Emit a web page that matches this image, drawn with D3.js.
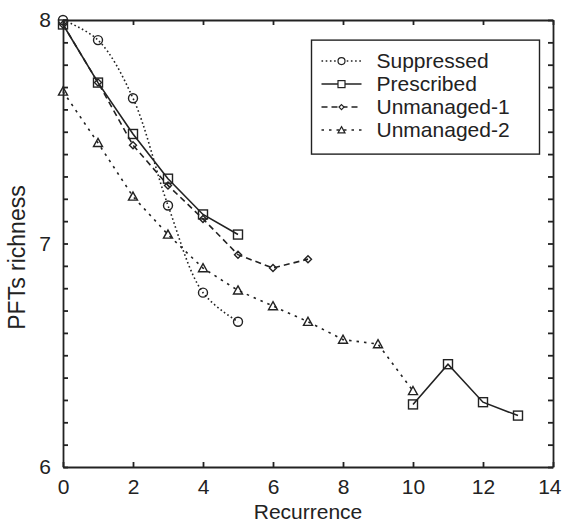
<!DOCTYPE html>
<html>
<head>
<meta charset="utf-8">
<script src="https://cdn.jsdelivr.net/npm/d3@7"></script>
<style>
  body { margin: 0; background: #fff; }
  text { font-family: "Liberation Sans", Arial, sans-serif; fill: #222; }
</style>
</head>
<body>
<svg id="chart" width="562" height="524"></svg>
<script>
// data
const recurrence = [0, 1, 2, 3, 4, 5, 6, 7, 8, 9, 10, 11, 12, 13];
const suppressed = [8.0, 7.91, 7.65, 7.17, 6.78, 6.65];
const prescribed = [7.98, 7.72, 7.49, 7.29, 7.13, 7.04, null, null, null, null, 6.28, 6.46, 6.29, 6.23];
const unmanaged1 = [7.98, 7.72, 7.44, 7.26, 7.11, 6.95, 6.89, 6.93];
const unmanaged2 = [7.68, 7.45, 7.21, 7.04, 6.89, 6.79, 6.72, 6.65, 6.57, 6.55, 6.34];

const seriesNames = ["Suppressed", "Prescribed", "Unmanaged-1", "Unmanaged-2"];
const xTicks = [0, 2, 4, 6, 8, 10, 12, 14];
const yLabels = [6, 7, 8];

const ink = "#222";
const margin = { top: 20, right: 9, bottom: 57, left: 63 };
const width = 562 - margin.left - margin.right;
const height = 524 - margin.top - margin.bottom;

const svg = d3.select("#chart");
const g = svg.append("g").attr("transform", `translate(${margin.left},${margin.top})`);

const x = d3.scaleLinear().domain([0, 14]).range([0, width]);
const y = d3.scaleLinear().domain([6, 8]).range([height, 0]);

const series = [
  { name: seriesNames[0], values: suppressed, dash: "1.6,2.6", marker: "circle", curve: d3.curveCatmullRom.alpha(0.5) },
  { name: seriesNames[1], values: prescribed, dash: null, marker: "square", curve: d3.curveLinear },
  { name: seriesNames[2], values: unmanaged1, dash: "6,4", marker: "diamond", curve: d3.curveLinear },
  { name: seriesNames[3], values: unmanaged2, dash: "2.5,5", marker: "triangle", curve: d3.curveLinear },
];

// axes, ticks pointing inward on all four sides
const yTickVals = d3.range(60, 81).map((d) => d / 10);
const fmtY = (d) => (yLabels.includes(d) ? d3.format("d")(d) : "");

function styleAxis(sel) {
  sel.selectAll("path, line").attr("stroke", ink).attr("stroke-width", 1.8);
  sel.selectAll("text").attr("font-size", 21).attr("fill", ink);
}

const xAxis = g.append("g")
  .attr("transform", `translate(0,${height})`)
  .call(d3.axisBottom(x).tickValues(xTicks).tickSizeInner(-5).tickSizeOuter(0).tickPadding(12))
  .call(styleAxis);
// last label sits right at the window edge, keep it inside
xAxis.selectAll(".tick text")
  .filter((d) => d === 14)
  .attr("text-anchor", "end")
  .attr("x", 8);

g.append("g")
  .call(d3.axisTop(x).tickValues(xTicks).tickSizeInner(-5).tickSizeOuter(0).tickFormat(""))
  .call(styleAxis);
g.append("g")
  .call(d3.axisLeft(y).tickValues(yTickVals).tickSizeInner(-5).tickSizeOuter(0).tickPadding(12).tickFormat(fmtY))
  .call(styleAxis);
g.append("g")
  .attr("transform", `translate(${width},0)`)
  .call(d3.axisRight(y).tickValues(yTickVals).tickSizeInner(-5).tickSizeOuter(0).tickFormat(""))
  .call(styleAxis);

// markers
function drawMarker(sel, type, s) {
  if (type === "circle") {
    sel.append("circle").attr("r", s / 2);
  } else if (type === "square") {
    sel.append("rect").attr("x", -s / 2).attr("y", -s / 2).attr("width", s).attr("height", s);
  } else if (type === "diamond") {
    const h = s / 2;
    sel.append("path").attr("d", `M0,${-h}L${h},0L0,${h}L${-h},0Z`);
  } else {
    const h = s / 2;
    sel.append("path").attr("d", `M0,${-h}L${h},${h * 0.8}L${-h},${h * 0.8}Z`);
  }
}

const markerSize = { circle: 9, square: 9, diamond: 7, triangle: 9 };

series.forEach((s) => {
  const pts = s.values.map((v, i) => ({ x: recurrence[i], y: v }));
  const line = d3.line()
    .defined((d) => d.y != null)
    .x((d) => x(d.x))
    .y((d) => y(d.y))
    .curve(s.curve);

  g.append("path")
    .datum(pts)
    .attr("d", line)
    .attr("fill", "none")
    .attr("stroke", ink)
    .attr("stroke-width", 1.6)
    .attr("stroke-dasharray", s.dash);

  g.append("g")
    .selectAll("g")
    .data(pts.filter((d) => d.y != null))
    .join("g")
    .attr("transform", (d) => `translate(${x(d.x)},${y(d.y)})`)
    .each(function () { drawMarker(d3.select(this), s.marker, markerSize[s.marker]); })
    .selectAll("*")
    .attr("fill", "none")
    .attr("stroke", ink)
    .attr("stroke-width", 1.4);
});

// legend
const legend = g.append("g").attr("transform", `translate(${x(7.1)},${y(7.91)})`);
legend.append("rect")
  .attr("width", 228).attr("height", 114)
  .attr("fill", "#fff").attr("stroke", ink).attr("stroke-width", 1.4);

series.forEach((s, i) => {
  const row = legend.append("g").attr("transform", `translate(0,${21 + i * 23})`);
  row.append("line")
    .attr("x1", 10).attr("x2", 50)
    .attr("stroke", ink).attr("stroke-width", 1.5)
    .attr("stroke-dasharray", s.dash);
  const m = row.append("g").attr("transform", "translate(30,0)");
  drawMarker(m, s.marker, markerSize[s.marker] - 2);
  m.selectAll("*").attr("fill", "#fff").attr("stroke", ink).attr("stroke-width", 1.2);
  row.append("text")
    .attr("x", 65).attr("dy", "0.35em")
    .attr("font-size", 21)
    .text(s.name);
});

// axis titles
svg.append("text")
  .attr("x", margin.left + width / 2)
  .attr("y", 519)
  .attr("text-anchor", "middle")
  .attr("font-size", 21)
  .text("Recurrence");

svg.append("text")
  .attr("transform", `translate(25,${margin.top + height / 2 + 14}) rotate(-90)`)
  .attr("text-anchor", "middle")
  .attr("font-size", 23)
  .text("PFTs richness");
</script>
</body>
</html>
